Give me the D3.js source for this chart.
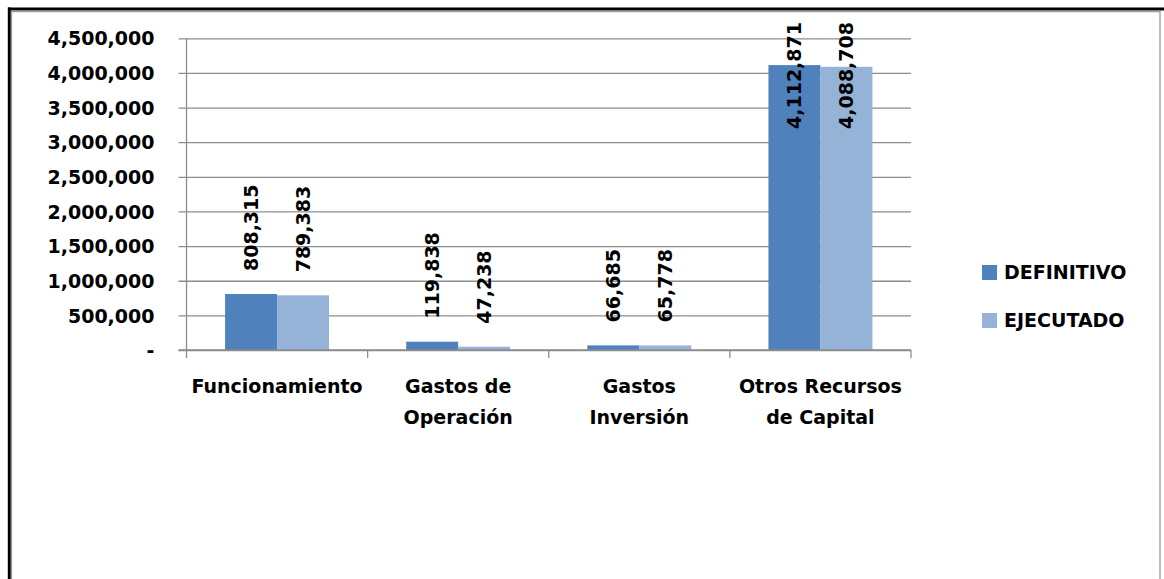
<!DOCTYPE html>
<html><head><meta charset="utf-8">
<script src="https://cdn.jsdelivr.net/npm/d3@7/dist/d3.min.js"></script>
<style>
html,body{margin:0;padding:0;background:#fff;}
svg{display:block;}
text{font-family:"DejaVu Sans",sans-serif;font-weight:bold;fill:#000;}
</style></head>
<body>
<svg id="chart" width="1164" height="579"></svg>
<script>
const categories = [["Funcionamiento"], ["Gastos de","Operación"], ["Gastos","Inversión"], ["Otros Recursos","de Capital"]];
const seriesNames = ["DEFINITIVO", "EJECUTADO"];
const definitivo = [808315, 119838, 66685, 4112871];
const ejecutado = [789383, 47238, 65778, 4088708];
const yTicks = [0, 500000, 1000000, 1500000, 2000000, 2500000, 3000000, 3500000, 4000000, 4500000];
const colors = ["#4F81BD", "#95B3D7"];

(function(){
const svg = d3.select("#chart");
const W = 1164, H = 579;
const pL = 186.5, pR = 911, pT = 38.3, pB = 350;

// frame
svg.append("line").attr("x1",8).attr("x2",W).attr("y1",9).attr("y2",9).attr("stroke","#000").attr("stroke-width",3);
svg.append("line").attr("x1",9.3).attr("x2",9.3).attr("y1",7.5).attr("y2",H).attr("stroke","#000").attr("stroke-width",3);
svg.append("path").attr("d",`M11.5,${H} V11.5 H1160 V${H}`).attr("fill","none").attr("stroke","#9a9a9a").attr("stroke-width",1.3);

const y = d3.scaleLinear().domain([0, 4500000]).range([pB, pT]);
const x = d3.scaleBand().domain(d3.range(categories.length)).range([pL, pR]).padding(0);
const bw = x.bandwidth();
const groupW = bw * 0.574;
const x1 = d3.scaleBand().domain(seriesNames).range([bw/2 - groupW/2, bw/2 + groupW/2]).padding(0);

const fmt = d3.format(",");

// y axis labels
const yAxis = d3.axisLeft(y).tickValues(yTicks).tickSize(0).tickFormat(d => d === 0 ? "-" : fmt(d));
const gy = svg.append("g").attr("transform",`translate(${pL},0)`).call(yAxis);
gy.select(".domain").remove();
gy.selectAll(".tick text").attr("x",-32).attr("dy","0.35em").style("font-size","19px").style("font-family","DejaVu Sans").style("font-weight","bold").attr("fill","#000");
// gridlines
const gg = svg.append("g").attr("transform",`translate(${pR},0)`).call(d3.axisRight(y).tickValues(yTicks).tickSize(-(pR-pL)-8).tickFormat(""));
gg.select(".domain").remove();
gg.selectAll(".tick line").attr("stroke","#8c8c8c").attr("stroke-width",1.3);

// bars
const series = [definitivo, ejecutado];
const bars = svg.append("g");
series.forEach((vals, si) => {
  bars.selectAll(null).data(vals).enter().append("rect")
    .attr("x", (d,i) => x(i) + x1(seriesNames[si]))
    .attr("width", x1.bandwidth())
    .attr("y", d => y(d))
    .attr("height", d => y(0) - y(d))
    .attr("fill", colors[si]);
});

// axes lines
svg.append("line").attr("x1",pL).attr("x2",pL).attr("y1",pT).attr("y2",pB).attr("stroke","#8c8c8c").attr("stroke-width",1.3);
const gx = svg.append("g").attr("transform",`translate(0,${pB})`);
gx.append("line").attr("x1",pL - 8).attr("x2",pR).attr("y1",0).attr("y2",0).attr("stroke","#8c8c8c").attr("stroke-width",1.3);
const boundaries = d3.range(categories.length + 1).map(i => i < categories.length ? x(i) : x(i-1) + bw);
gx.selectAll(".ct").data(boundaries).enter().append("line")
  .attr("x1", d => d).attr("x2", d => d).attr("y1",0).attr("y2",8)
  .attr("stroke","#8c8c8c").attr("stroke-width",1.3);

// category labels
const cl = svg.append("g");
categories.forEach((lines, i) => {
  const t = cl.append("text").attr("text-anchor","middle").style("font-size","19px")
    .attr("x", x(i) + bw/2).attr("y", 393);
  lines.forEach((ln, k) => t.append("tspan").attr("x", x(i) + bw/2).attr("y", 393 + k*31).text(ln));
});

// data labels
const labTop = 22;
series.forEach((vals, si) => {
  vals.forEach((v, i) => {
    const cx = x(i) + x1(seriesNames[si]) + x1.bandwidth()/2;
    const t = svg.append("text").style("font-size","19px").attr("dy","0.36em").text(fmt(v));
    const len = t.node().getComputedTextLength();
    let yb = y(v) - 23;
    if (yb - len < labTop) yb = labTop + len;
    t.attr("transform", `translate(${cx},${yb}) rotate(-90)`);
  });
});

// legend
const lg = svg.append("g");
seriesNames.forEach((n, i) => {
  const yy = 265 + i*48;
  lg.append("rect").attr("x",982).attr("y",yy).attr("width",15).attr("height",15).attr("fill",colors[i]);
  lg.append("text").attr("x",1004).attr("y",yy + 7.5).attr("dy","0.36em").style("font-size","19px").text(n);
});
})();
</script>
</body></html>
